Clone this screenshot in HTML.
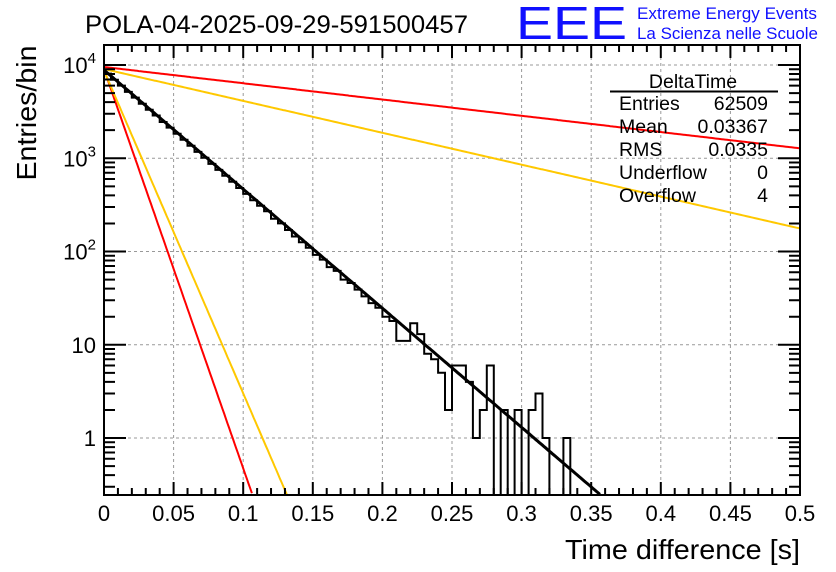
<!DOCTYPE html>
<html><head><meta charset="utf-8"><style>
html,body{margin:0;padding:0;background:#fff;}
svg{display:block;font-family:"Liberation Sans",Arial,sans-serif;}
</style></head><body>
<svg id="chart" width="836" height="572" viewBox="0 0 836 572" xmlns="http://www.w3.org/2000/svg">
<rect width="836" height="572" fill="#fff"/>
<text x="85" y="33" font-size="25" textLength="383" lengthAdjust="spacingAndGlyphs">POLA-04-2025-09-29-591500457</text>
<text x="516" y="39" font-size="46" fill="#1010ff" textLength="111" lengthAdjust="spacingAndGlyphs">EEE</text>
<text x="637" y="19" font-size="16.5" fill="#1010ff" textLength="180" lengthAdjust="spacingAndGlyphs">Extreme Energy Events</text>
<text x="637" y="39" font-size="16.5" fill="#1010ff" textLength="181" lengthAdjust="spacingAndGlyphs">La Scienza nelle Scuole</text>
<g id="grid"></g>
<g id="curves"></g>
<g id="hist"></g>
<g id="axes"></g>
<text x="36" y="113" font-size="28" text-anchor="middle" transform="rotate(-90 36 113)" textLength="135" lengthAdjust="spacingAndGlyphs">Entries/bin</text>
<text x="800" y="559" font-size="28" text-anchor="end" textLength="235" lengthAdjust="spacingAndGlyphs">Time difference [s]</text>
<g font-size="19.5">
<text x="693" y="88" text-anchor="middle">DeltaTime</text>
<line x1="610" y1="91.5" x2="778" y2="91.5" stroke="#000" stroke-width="2"/>
<text x="619" y="110">Entries</text><text x="768" y="110" text-anchor="end">62509</text>
<text x="619" y="133">Mean</text><text x="768" y="133" text-anchor="end">0.03367</text>
<text x="619" y="156">RMS</text><text x="768" y="156" text-anchor="end">0.0335</text>
<text x="619" y="179">Underflow</text><text x="768" y="179" text-anchor="end">0</text>
<text x="619" y="202">Overflow</text><text x="768" y="202" text-anchor="end">4</text>
</g>
</svg>
<script>
const binWidth = 0.005;
const counts = [8080,6950,6010,5150,4470,3840,3320,2870,2450,2130,1830,1580,1360,1170,1010,870,750,650,560,480,415,355,310,270,225,200,170,145,126,110,92,82,68,62,50,46,39,33,28,25,20,18,11,11,17,13,8,7,5,2,6,6,4,1,2,6,0,2,0,2,0,2,3,1,0,0,1,0,0,0,0,0,0,0,0,0,0,0,0,0,0,0,0,0,0,0,0,0,0,0,0,0,0,0,0,0,0,0,0,0];
const fitN0 = [8840, 9000, 8700, 9520, 9060];
const fitTau = [0.0340, 0.01015, 0.01255, 0.249, 0.127];
const fitColors = ["#000","#ff0000","#ffc800","#ff0000","#ffc800"];
const xTicks = [0,0.05,0.1,0.15,0.2,0.25,0.3,0.35,0.4,0.45,0.5];
const xTickLabels = ["0","0.05","0.1","0.15","0.2","0.25","0.3","0.35","0.4","0.45","0.5"];
const yDecades = [1,10,100,1000,10000];

const X0=104,X1=800,Y0=495,YT=45;
const yMin=Math.log10(0.245), yMax=4+20/93.3;
const sx=t=>X0+(t/0.5)*(X1-X0);
const sy=v=>{const l=v>0?Math.log10(v):yMin-1;return Math.min(Y0,Math.max(YT,Y0-(l-yMin)/(yMax-yMin)*(Y0-YT)));};
const NS="http://www.w3.org/2000/svg";
function mk(tag,attrs,parent){const e=document.createElementNS(NS,tag);for(const k in attrs)e.setAttribute(k,attrs[k]);parent.appendChild(e);return e;}
const grid=document.getElementById('grid'),axes=document.getElementById('axes'),hist=document.getElementById('hist'),curves=document.getElementById('curves');

xTicks.forEach((t,i)=>{
  if(i>0&&i<xTicks.length-1){const g=mk('line',{x1:sx(t),x2:sx(t),y1:YT,y2:Y0,stroke:'#999','stroke-dasharray':'3,3','stroke-width':1},grid);
  
  }
  const lb=mk('text',{x:sx(t),y:521,'font-size':22,'text-anchor':'middle'},axes);lb.textContent=xTickLabels[i];
  
  
});
yDecades.forEach(v=>{
  const y=sy(v);
  const g=mk('line',{x1:X0,x2:X1,y1:y,y2:y,stroke:'#999','stroke-dasharray':'3,3','stroke-width':1},grid);
  
  
  const e=Math.round(Math.log10(v));
  const t=mk('text',{x:96,y:y+8,'font-size':22,'text-anchor':'end'},axes);
  
  
  if(e===0)t.textContent='1';else if(e===1)t.textContent='10';
  else{t.textContent='10';const s=mk('tspan',{dy:-10,'font-size':15},t);s.textContent=String(e);}
});
let tk='';
for(let i=0;i<=50;i++){const x=sx(i*0.01);const L=i%5===0?13:7;tk+=`M${x},${Y0}v${-L}M${x},${YT}v${L}`;}
for(let d=-1;d<=4;d++)for(let m=1;m<10;m++){const v=m*Math.pow(10,d);const l=Math.log10(v);if(l<yMin||l>yMax)continue;const y=sy(v);const L=m===1?22:11;tk+=`M${X0},${y}h${L}M${X1},${y}h${-L}`;}
const ticks=mk('path',{d:tk,stroke:'#000','stroke-width':2,fill:'none'},axes);


const frame=mk('rect',{x:X0,y:YT,width:X1-X0,height:Y0-YT,fill:'none',stroke:'#000','stroke-width':2},axes);



fitN0.forEach((n0,k)=>{
  let d='';for(let i=0;i<=400;i++){const t=i*0.5/400;const v=n0*Math.exp(-t/fitTau[k]);if(v<0.245)break;d+=(i?'L':'M')+sx(t).toFixed(1)+','+sy(v).toFixed(1);}
  const p=mk('path',{d:d,stroke:fitColors[k],'stroke-width':k===0?3:2,fill:'none'},k===0?hist:curves);
  
  
});
let hd=`M${sx(0)},${Y0}`;
counts.forEach((c,i)=>{const y=sy(c);hd+=`L${sx(i*binWidth).toFixed(1)},${y.toFixed(1)}L${sx((i+1)*binWidth).toFixed(1)},${y.toFixed(1)}`;});
hd+=`L${sx(0.5)},${Y0}`;
const h=mk('path',{d:hd,stroke:'#000','stroke-width':2,fill:'none'},hist);


</script>
</body></html>
